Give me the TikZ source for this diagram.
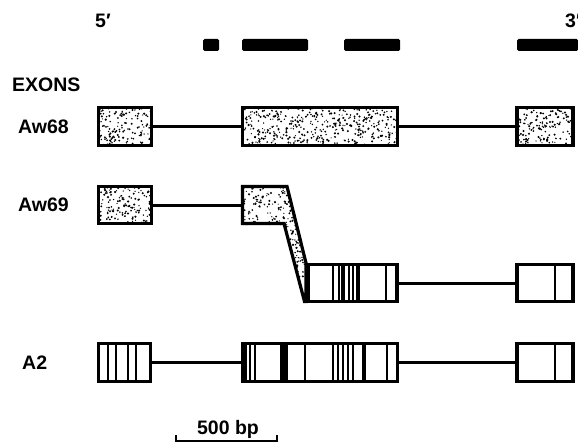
\documentclass[tikz,border=0pt]{standalone}
\usepackage{fontspec}
\setmainfont{Liberation Sans}

% random stipple dots inside a box: x, y, width, height, count
\newcommand{\stippledots}[5]{%
  \foreach \k in {1,...,#5}
    \fill ({#1+#3*rnd},{#2+#4*rnd}) circle ({0.6+0.6*rnd});}

\begin{document}
\begin{tikzpicture}[
    x=1pt, y=-1pt,
    lbl/.style={
        font=\fontsize{19.5}{22}\selectfont\bfseries,
        inner sep=0pt
    },
    exon/.style={
        rectangle,
        draw=black,
        line width=3.2pt,
        inner sep=0pt
    },
    intron/.style={
        line width=3pt
    },
    stripe/.style={
        line width=2.2pt
    },
    bar/.style={
        fill=black,
        rounded corners=1.5pt
    }
]
\pgfmathsetseed{4711}
\useasboundingbox (0,0) rectangle (578,444);

% Extremos y bloques superiores
\node[lbl] (five) at (103,21) {5′};
\node[lbl, anchor=west] (three) at (565,21) {3′};
\fill[bar] (203,39) rectangle (219,51);
\fill[bar] (242,39) rectangle (308,51);
\fill[bar] (344,39) rectangle (400,51);
\fill[bar] (517,39) rectangle (578,51);

% Etiquetas
\node[lbl, anchor=west] (exons) at (12,85) {EXONS};
\node[lbl, anchor=west] (l68) at (18,126.5) {Aw68};
\node[lbl, anchor=west] (l69) at (18,205) {Aw69};
\node[lbl, anchor=west] (la2) at (22,362.5) {A2};

% Aw68
\node[exon, minimum width=53pt, minimum height=38pt] (aw68a) at (125,126.5) {};
\node[exon, minimum width=155pt, minimum height=38pt] (aw68b) at (320,126.5) {};
\node[exon, minimum width=56pt, minimum height=38pt] (aw68c) at (545,126.5) {};
\draw[intron] (aw68a.east) -- (aw68b.west);
\draw[intron] (aw68b.east) -- (aw68c.west);
\begin{scope}
    \clip (98,107) rectangle (152,146);
    \stippledots{97}{106}{56}{41}{160}
\end{scope}
\begin{scope}
    \clip (242,107) rectangle (398,146);
    \stippledots{241}{106}{158}{41}{460}
\end{scope}
\begin{scope}
    \clip (517,107) rectangle (573,146);
    \stippledots{516}{106}{59}{41}{170}
\end{scope}

% Aw69
\node[exon, minimum width=53pt, minimum height=37pt] (aw69a) at (125,205) {};
\coordinate (aw69b) at (241,205);
\draw[intron] (aw69a.east) -- (aw69b);
\begin{scope}
    \clip (241,185) -- (288,185) -- (307,263) -- (307,303) -- (305,303)
        -- (285,225) -- (241,225) -- cycle;
    \stippledots{241}{185}{68}{118}{560}
\end{scope}
\begin{scope}
    \clip (98,186) rectangle (152,224);
    \stippledots{97}{185}{56}{40}{160}
\end{scope}
\draw[line width=3.2pt, line join=miter]
    (242.5,186.5) -- (287,186.5) -- (306,263) -- (306,301.5) -- (304.5,301.5)
    -- (284,223.5) -- (242.5,223.5) -- cycle;
\node[exon, minimum width=89pt, minimum height=37pt, fill=white] (aw69c) at (352.5,283) {};
\node[exon, minimum width=56pt, minimum height=37pt] (aw69d) at (545,283) {};
\draw[intron] (aw69c.east) -- (aw69d.west);
\foreach \sx in {333,339,349,353,386}
    \draw[stripe] (\sx,263) -- (\sx,303);
\foreach \sx in {343,358}
    \draw[line width=3.6pt] (\sx,263) -- (\sx,303);
\draw[stripe] (555,263) -- (555,303);

% A2
\node[exon, minimum width=52pt, minimum height=38pt] (a2a) at (124.5,362.5) {};
\node[exon, minimum width=155pt, minimum height=38pt] (a2b) at (320,362.5) {};
\node[exon, minimum width=56pt, minimum height=38pt] (a2c) at (545,362.5) {};
\draw[intron] (a2a.east) -- (a2b.west);
\draw[intron] (a2b.east) -- (a2c.west);
\foreach \sx in {108,116,128,136}
    \draw[stripe] (\sx,342) -- (\sx,383);
\foreach \sx in {250,255,305,333,338,343,348,353,387}
    \draw[stripe] (\sx,342) -- (\sx,383);
\foreach \sx in {245,364}
    \draw[line width=3.6pt] (\sx,342) -- (\sx,383);
\fill (280,342) rectangle (288,383);
\draw[stripe] (555,342) -- (555,383);

% Escala
\node[lbl] (scale) at (228,429) {500 bp};
\draw[line width=2.2pt] (176,435) -- (176,441) -- (277,441) -- (277,435);

\end{tikzpicture}
\end{document}
